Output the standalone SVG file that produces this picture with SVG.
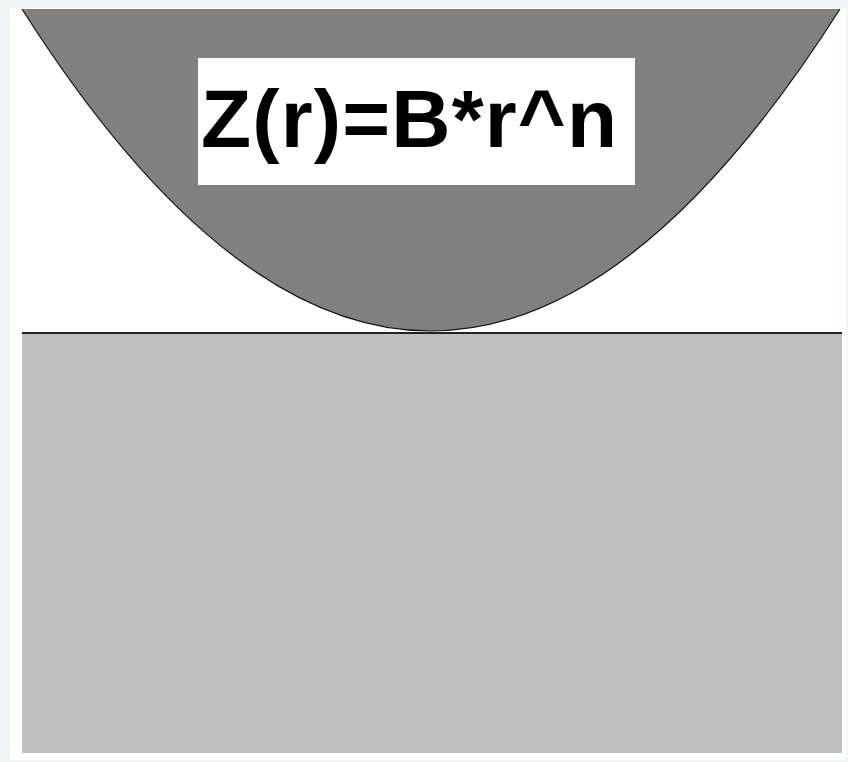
<svg xmlns="http://www.w3.org/2000/svg" width="848" height="762" viewBox="0 0 848 762">
  <style>
    .eq { font-family: "Liberation Sans", Arial, sans-serif; font-weight: bold; font-size: 82px; fill: #000; }
  </style>
  <rect x="0" y="0" width="848" height="762" fill="#eef6f8"/>
  <rect x="10" y="8" width="836" height="752" fill="#ffffff"/>
  <g id="substrate">
    <rect x="22" y="333" width="820" height="420" fill="#c0c0c0"/>
    <line x1="22" y1="333" x2="842" y2="333" stroke="#222" stroke-width="2"/>
  </g>
  <g id="indenter">
    <path d="M22 9 Q431 653 840 9 Z" fill="#808080"/>
    <path d="M22 9 Q431 653 840 9" fill="none" stroke="#111" stroke-width="1.2"/>
  </g>
  <g id="label">
    <rect x="198" y="58" width="437" height="127" fill="#ffffff"/>
    <text class="eq" x="201" y="147" textLength="416" lengthAdjust="spacing">Z(r)=B*r^n</text>
  </g>
</svg>
